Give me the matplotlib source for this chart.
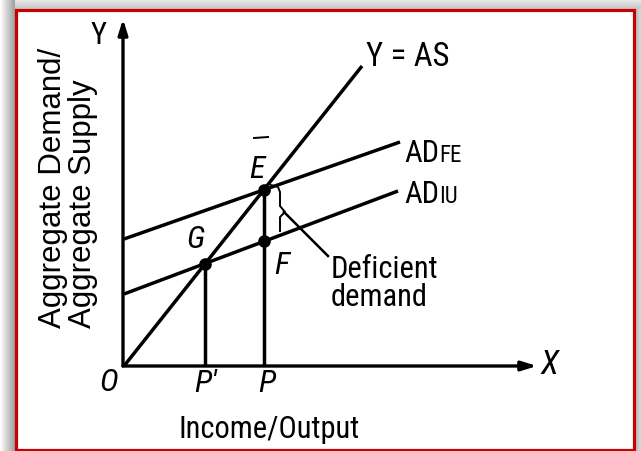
import matplotlib
matplotlib.use("Agg")
import matplotlib.pyplot as plt
import numpy as np
from matplotlib.patches import Rectangle
from matplotlib import font_manager

# ---------------- data (diagram units) ----------------
as_x = [0.0, 11.9]
as_y = [0.0, 15.0]
ad_fe_x = [0.0, 13.8]
ad_fe_y = [6.35, 11.2]
ad_iu_x = [0.0, 13.7]
ad_iu_y = [3.6, 8.75]
point_names = ["E", "G", "F"]
point_x = [7.0, 4.05, 7.0]
point_y = [8.82, 5.10, 6.23]
axis_x_end = 20.65
axis_y_end = 17.35
x_tick_names = ["O", "P'", "P"]

W, H = 641, 452
OX, OY, S = 124, 367, 20.0


def P(px, py):
    """pixel position -> diagram units (used for label placement)"""
    return ((px - OX) / S, (OY - py) / S)


_names = {f.name for f in font_manager.fontManager.ttflist}
FONT = "Liberation Sans"
NARROW = FONT
for cand in ["Roboto Condensed", "Archivo Narrow", "PT Sans Narrow"]:
    if cand in _names:
        NARROW = cand
        break
WEIGHT = "normal"

fig = plt.figure(figsize=(W / 100, H / 100), dpi=100)
fig.patch.set_facecolor("white")
ax = fig.add_axes([0, 0, 1, 1])
ax.set_xlim(-OX / S, (W - OX) / S)
ax.set_ylim(-(H - OY) / S, OY / S)
ax.axis("off")

# ---------------- frame with shadow ----------------
x0, x1 = -OX / S, (W - OX) / S
y0, y1 = -(H - OY) / S, OY / S
gl = np.linspace(1.0, 0.62, 40).reshape(1, -1)
ax.imshow(gl, cmap="gray", vmin=0, vmax=1, aspect="auto",
          extent=[x0, P(15, 0)[0], y0, y1], zorder=0)
gt = np.linspace(0.93, 0.78, 20).reshape(-1, 1)
ax.imshow(gt, cmap="gray", vmin=0, vmax=1, aspect="auto",
          extent=[P(15, 0)[0], x1, P(0, 10)[1], y1], zorder=0)
gr = np.linspace(0.72, 0.85, 10).reshape(1, -1)
ax.imshow(gr, cmap="gray", vmin=0, vmax=1, aspect="auto",
          extent=[P(635, 0)[0], x1, y0, P(0, 10)[1]], zorder=0)
bl = P(15.5, 451)
tr = P(634, 10.5)
ax.add_patch(Rectangle(bl, tr[0] - bl[0], tr[1] - bl[1], facecolor="white",
                       edgecolor="#c80000", lw=2.3, zorder=1))

# ---------------- axes arrows ----------------
akw = dict(arrowstyle="-|>,head_length=0.9,head_width=0.28", lw=2.4,
           color="black", shrinkA=0, shrinkB=0)
ax.annotate("", xy=(axis_x_end, 0), xytext=(-0.05, 0), arrowprops=akw, zorder=5)
ax.annotate("", xy=(-0.05, axis_y_end), xytext=(-0.05, 0), arrowprops=akw, zorder=5)

# ---------------- lines ----------------
lkw = dict(color="black", lw=2.5, solid_capstyle="butt", zorder=4)
ax.plot(as_x, as_y, **lkw)
ax.plot(ad_fe_x, ad_fe_y, **lkw)
ax.plot(ad_iu_x, ad_iu_y, **lkw)

ax.plot([point_x[1], point_x[1]], [0, point_y[1]], **lkw)
ax.plot([point_x[0], point_x[0]], [0, point_y[0]], **lkw)

ax.scatter(point_x, point_y, s=65, color="black", zorder=6)

# ---------------- brace & leader ----------------
brace_px = [(271, 186), (278, 188), (280, 193), (280, 207), (285, 213),
            (280, 218), (280, 232)]
bx, by = zip(*[P(*p) for p in brace_px])
ax.plot(bx, by, color="black", lw=1.4, zorder=4)
lx, ly = zip(*[P(284, 213), P(328, 257)])
ax.plot(lx, ly, color="black", lw=1.8, zorder=4)
mx, my = zip(*[P(254, 139), P(268, 138)])
ax.plot(mx, my, color="black", lw=1.4, zorder=4)

# ---------------- text ----------------
def txt(px, py, s, size=23, ha="center", va="center", style="normal",
        family=NARROW, **kw):
    x, y = P(px, py)
    return ax.text(x, y, s, fontsize=size, ha=ha, va=va, style=style,
                   family=family, weight=WEIGHT, zorder=7, **kw)

txt(99, 36, "Y", size=22)
txt(549, 365, "X", size=24, style="italic")
txt(366, 57, "Y = AS", size=23.5, ha="left")

renderer = fig.canvas.get_renderer()
for base_y, sub in [(162, "FE"), (203, "IU")]:
    t = txt(404, base_y, "AD", size=22, ha="left", va="baseline")
    bb = t.get_window_extent(renderer=renderer)
    txt(bb.x1 + 0.5, base_y, sub, size=16.5, ha="left", va="baseline")

txt(331, 270, "Deficient", size=22, ha="left")
txt(331, 298, "demand", size=22, ha="left")

name_px = {"E": (257, 170), "G": (196, 240), "F": (282, 266)}
for n in point_names:
    txt(*name_px[n], n, size=23, style="italic")

tick_px = [(109, 383), (206, 384), (267, 384)]
for (tx, ty), n in zip(tick_px, x_tick_names):
    txt(tx, ty, n, size=23, style="italic")

txt(269, 430, "Income/Output", size=22)

for (lx_, ly_), s in zip([(53, 328), (83, 328)],
                         ["Aggregate Demand/", "Aggregate Supply"]):
    x, y = P(lx_, ly_)
    ax.text(x, y, s, fontsize=22.5, rotation=90, rotation_mode="anchor",
            ha="left", va="center", family=FONT, zorder=7)

fig.savefig("out.png", dpi=100)
